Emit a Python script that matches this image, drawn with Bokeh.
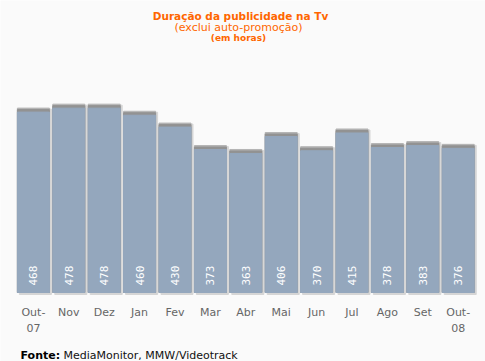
from math import pi
from bokeh.plotting import figure
from bokeh.models import Range1d, Label
from bokeh.core.properties import value
from bokeh.embed import file_html
from bokeh.resources import INLINE

# ---- data ----
months = ["Out-07", "Nov", "Dez", "Jan", "Fev", "Mar", "Abr", "Mai", "Jun", "Jul", "Ago", "Set", "Out-08"]
tick_labels = ["Out-\n07", "Nov", "Dez", "Jan", "Fev", "Mar", "Abr", "Mai", "Jun", "Jul", "Ago", "Set", "Out-\n08"]
hours = [468, 478, 478, 460, 430, 373, 363, 406, 370, 415, 378, 383, 376]

title = "Duração da publicidade na Tv"
subtitle = "(exclui auto-promoção)"
unit_text = "(em horas)"
source_bold = "Fonte:"
source_text = "MediaMonitor, MMW/Videotrack"

# ---- layout (pixels) ----
W, H = 485, 361
PITCH = 35.4        # px per category
X0PX = 32.9         # px centre of first bar
BASE_PX = 292       # px (from top) of the zero line
PPU = 0.394         # px per hour
BAR_W = 0.904

n = len(hours)
xs = list(range(n))

p = figure(width=W, height=H,
           x_range=Range1d(-X0PX / PITCH, (W - X0PX) / PITCH),
           y_range=Range1d(-(H - BASE_PX) / PPU, BASE_PX / PPU),
           output_backend="svg", toolbar_location=None,
           x_axis_location=None, y_axis_location=None,
           min_border=0, background_fill_color="#fafafa",
           border_fill_color="#fafafa", outline_line_color=None)
p.margin = (0, 0, 0, 0)
p.xgrid.visible = False
p.ygrid.visible = False

px = 1.0 / PPU
# soft shadow (right / below)
p.vbar(x=[x + 2.0 / PITCH for x in xs], width=BAR_W, bottom=-2 * px,
       top=[h - 1 * px for h in hours], color="#d5d5d5")
# grey cap
p.vbar(x=xs, width=BAR_W, bottom=0, top=hours, color="#b4b4b4")
p.vbar(x=xs, width=BAR_W, bottom=0, top=[h - 1.5 * px for h in hours], color="#929292")
# blue body
p.vbar(x=xs, width=BAR_W, bottom=0, top=[h - 4 * px for h in hours], color="#94a7bd")

# value labels (rotated, white)
p.text(x=xs, y=[7 * px] * n, text=[str(h) for h in hours], angle=pi / 2,
       text_align="left", text_baseline="middle", text_color="white",
       text_font=value("DejaVu Sans Mono"), text_font_size="11px")

# category labels
p.text(x=xs, y=[-13 * px] * n, text=tick_labels,
       text_align="center", text_baseline="top", text_color="#666666",
       text_font=value("DejaVu Sans"), text_font_size="11px", text_line_height=1.25)

# titles
orange = "#ff6600"
p.add_layout(Label(x=240, y=H - 15, x_units="screen", y_units="screen", text=title,
                   text_align="center", text_baseline="alphabetic",
                   text_font="DejaVu Sans", text_font_style="bold",
                   text_font_size="10.5px", text_color=orange))
p.add_layout(Label(x=238, y=H - 27, x_units="screen", y_units="screen", text=subtitle,
                   text_align="center", text_baseline="alphabetic",
                   text_font="DejaVu Sans", text_font_size="11px", text_color=orange))
p.add_layout(Label(x=238, y=H - 37, x_units="screen", y_units="screen", text=unit_text,
                   text_align="center", text_baseline="alphabetic",
                   text_font="DejaVu Sans", text_font_style="bold",
                   text_font_size="9px", text_color=orange))

# source
p.add_layout(Label(x=20, y=H - 355, x_units="screen", y_units="screen", text=source_bold,
                   text_align="left", text_baseline="alphabetic",
                   text_font="DejaVu Sans", text_font_style="bold",
                   text_font_size="11px", text_color="#000000"))
p.add_layout(Label(x=63, y=H - 355, x_units="screen", y_units="screen", text=source_text,
                   text_align="left", text_baseline="alphabetic",
                   text_font="DejaVu Sans", text_font_size="11px", text_color="#111111"))

open("out.html", "w").write(file_html(p, INLINE))
